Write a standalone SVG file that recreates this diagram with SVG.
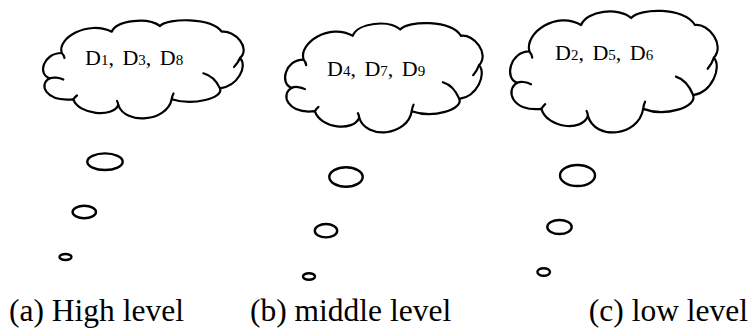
<svg xmlns="http://www.w3.org/2000/svg" width="751" height="333" viewBox="0 0 751 333">
<style>
.cl{fill:#fff;stroke:#000;stroke-width:2.2;stroke-linejoin:round;}
.cu{fill:none;stroke:#000;stroke-width:2.2;stroke-linecap:round;}
.bub{fill:#fff;stroke:#000;stroke-width:2.4;}
.t{font-family:"Liberation Serif","Times New Roman",serif;font-size:22px;fill:#000;word-spacing:3px;}
.s{font-size:15px;}
.lab{font-family:"Liberation Serif","Times New Roman",serif;font-size:31.5px;fill:#000;}
</style>
<defs>
<g id="cloud">
<path class="cl" vector-effect="non-scaling-stroke" d="M18.7,31 C14,16 45,-2 68.7,9.7 C74,-2 105,-5 117,4 C125,-4 168,-5 178.7,9.7 C192,8 208,26 197,36 C205,44 195,64 177,66.3 C181,76 150,84 128.7,77.3 C124,100 82,103 75.3,83 C70,96 36,93 30.3,77.3 C2,80 -5,62 7,56.3 C-6,53 0,31 18.7,31 Z"/>
<path class="cu" vector-effect="non-scaling-stroke" d="M7,56.3 C10,55 16,55.5 20.3,57.5 M18.7,31 Q21,33 21.5,36 M197,36 Q195,41 191,45 M177,66.3 C173,58 167,53 160.3,51.3 M128.7,77.3 Q129,74 130.5,71.5 M75.3,83 Q75,80.5 74,79 M30.3,77.3 Q32,75 34,73.5"/>
</g>
</defs>
<g id="node-a">
<use href="#cloud" transform="translate(43,22)"/>
<text class="t" x="85" y="65">D<tspan class="s">1</tspan>, D<tspan class="s">3</tspan>, D<tspan class="s">8</tspan></text>
<ellipse class="bub" cx="105" cy="161.7" rx="17.7" ry="8.3"/>
<ellipse class="bub" cx="84.3" cy="212" rx="11.7" ry="6.2"/>
<ellipse class="bub" cx="65.5" cy="257" rx="6" ry="3"/>
</g>
<g id="node-b">
<use href="#cloud" transform="translate(285,25) scale(0.985,1.115)"/>
<text class="t" x="327" y="76">D<tspan class="s">4</tspan>, D<tspan class="s">7</tspan>, D<tspan class="s">9</tspan></text>
<ellipse class="bub" cx="346" cy="177" rx="16.7" ry="9.7"/>
<ellipse class="bub" cx="326" cy="230.7" rx="11.2" ry="6.7"/>
<ellipse class="bub" cx="309" cy="276.5" rx="6" ry="3.3"/>
</g>
<g id="node-c">
<use href="#cloud" transform="translate(510,13) scale(1.035,1.24)"/>
<text class="t" x="555" y="60">D<tspan class="s">2</tspan>, D<tspan class="s">5</tspan>, D<tspan class="s">6</tspan></text>
<ellipse class="bub" cx="577.5" cy="175.5" rx="17.5" ry="10.5"/>
<ellipse class="bub" cx="559.5" cy="227" rx="12.2" ry="7"/>
<ellipse class="bub" cx="543.7" cy="272" rx="6.3" ry="3.8"/>
</g>
<g id="connectors"></g>
<g id="labels">
<text class="lab" x="9" y="321">(a) High level</text>
<text class="lab" x="250" y="321">(b) middle level</text>
<text class="lab" x="748" y="321" text-anchor="end">(c) low level</text>
</g>
</svg>
